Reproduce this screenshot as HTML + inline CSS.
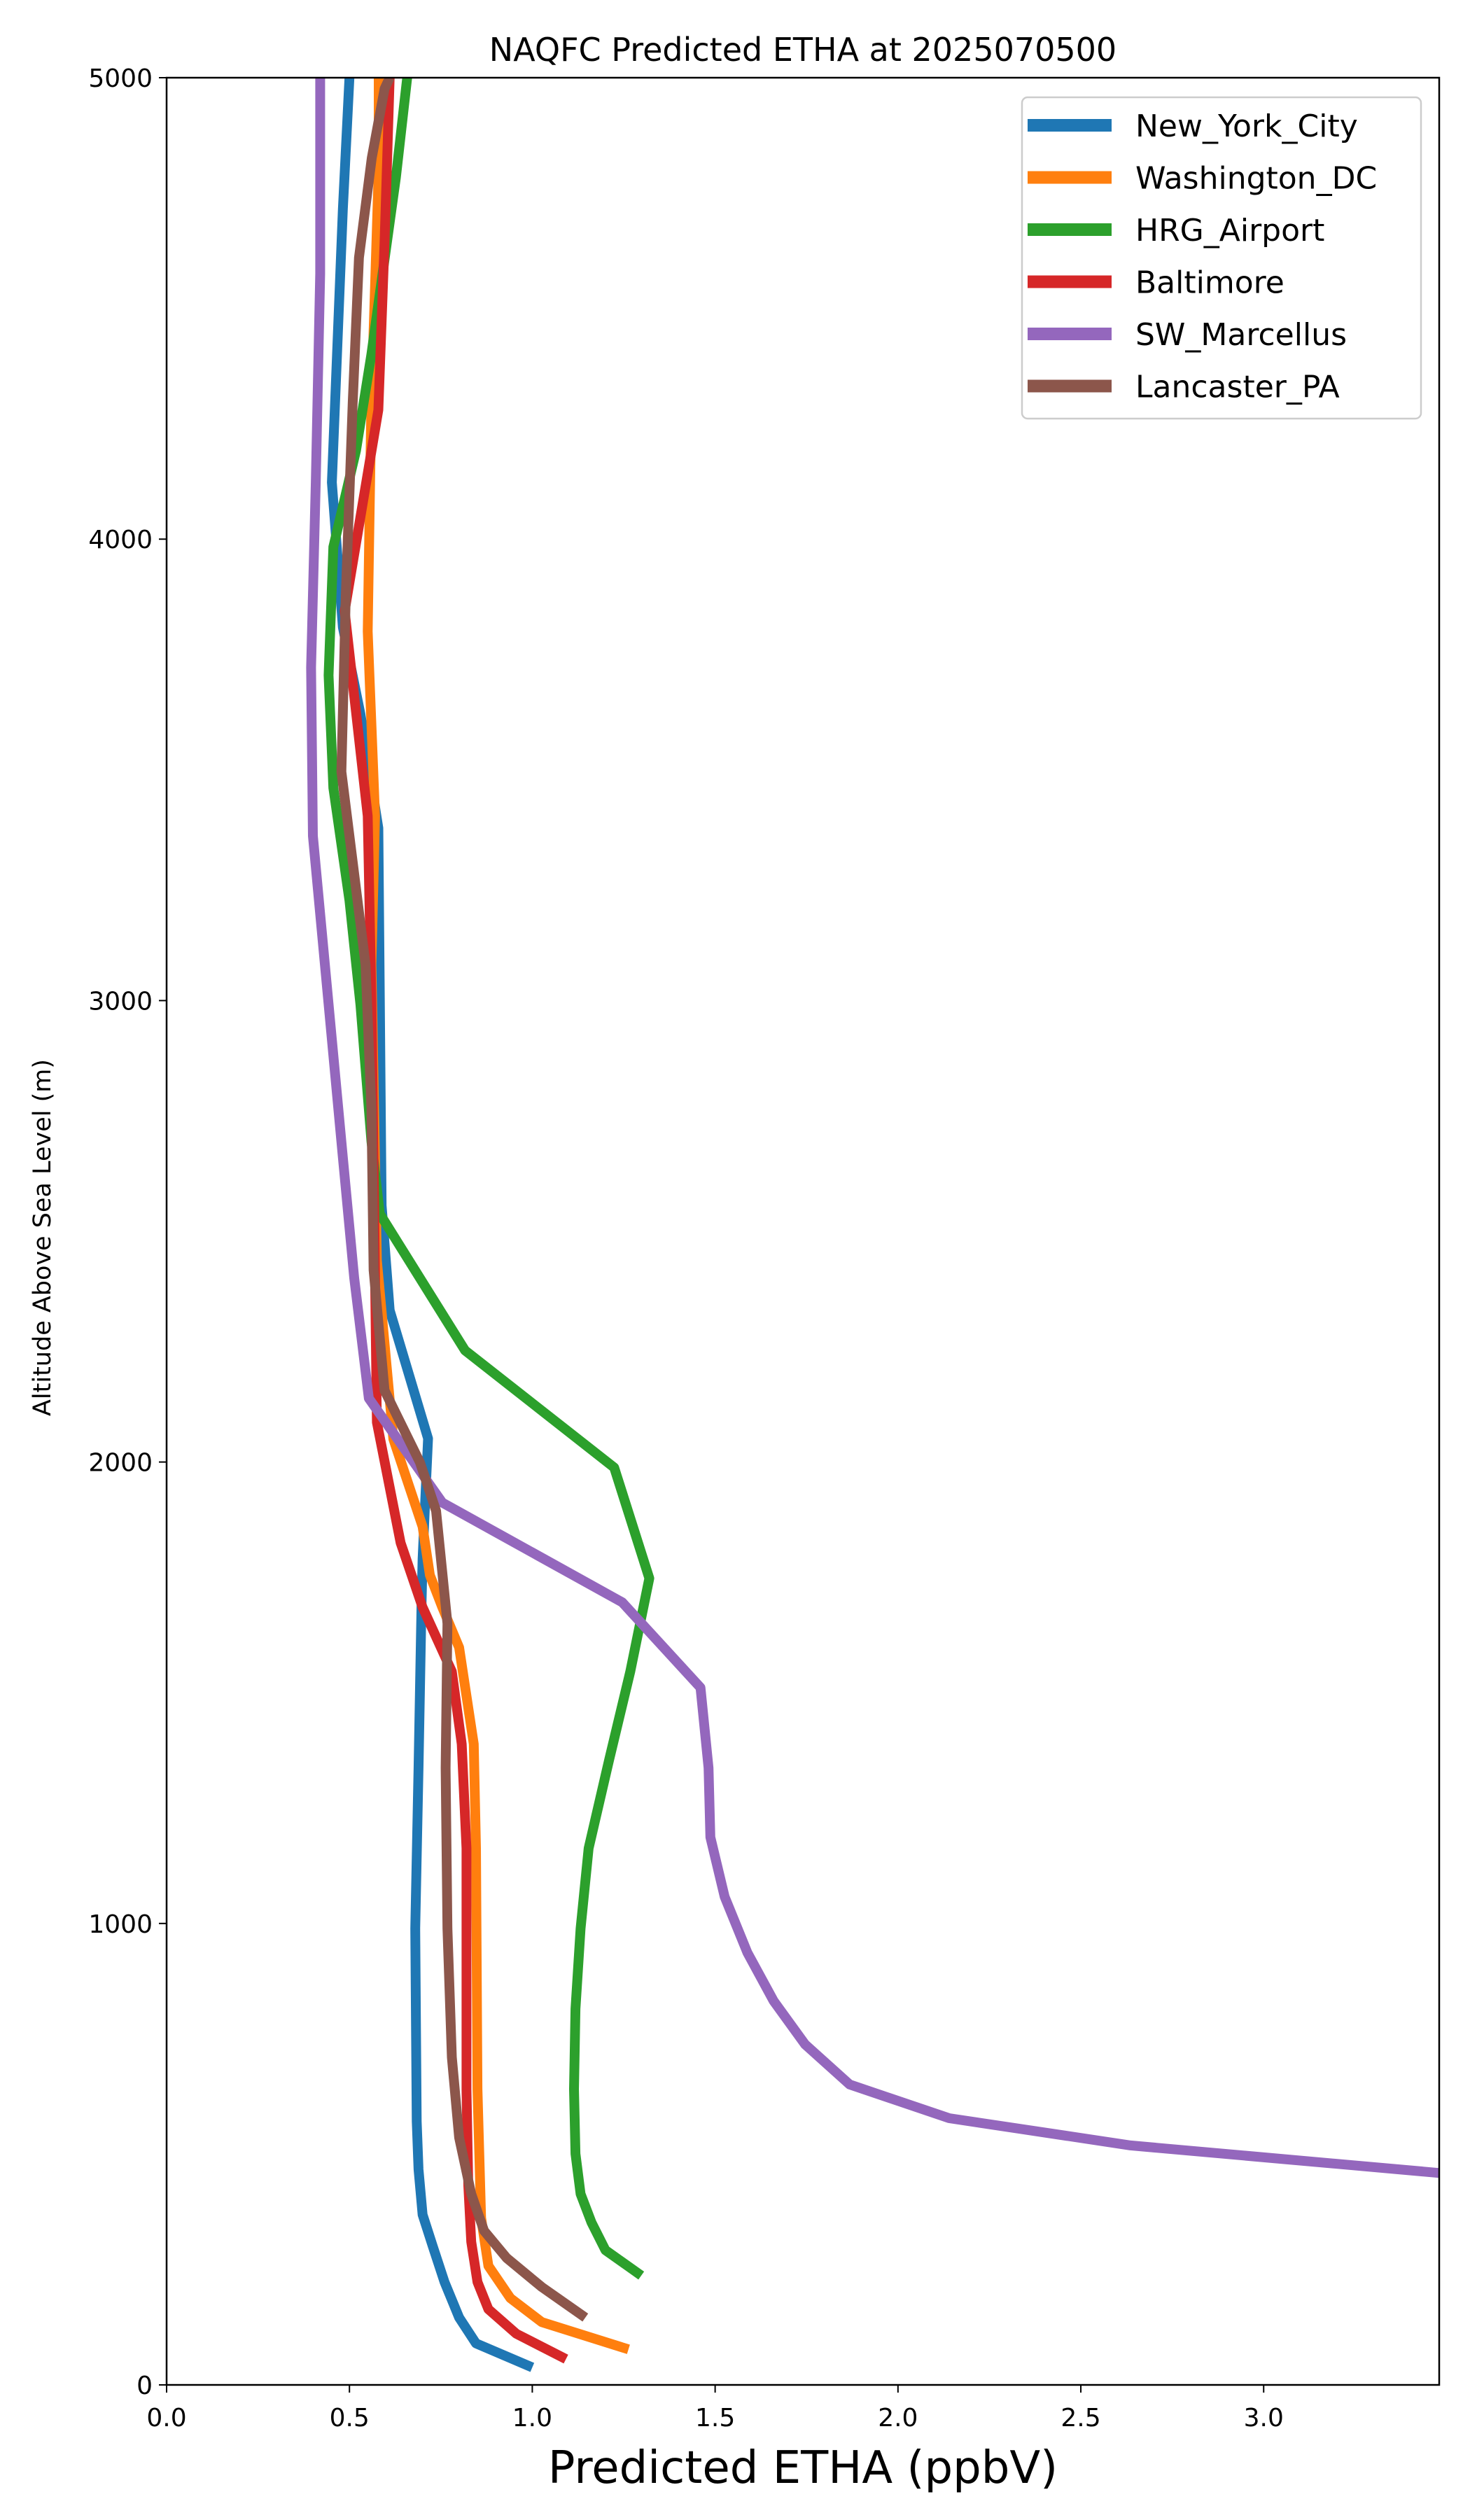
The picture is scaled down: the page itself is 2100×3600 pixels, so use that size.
<!DOCTYPE html>
<html><head><meta charset="utf-8"><style>
html,body{margin:0;padding:0;background:#fff;}
svg{display:block;font-family:"DejaVu Sans","Liberation Sans",sans-serif;}
</style></head><body>
<svg id="chart" width="2100" height="3600" viewBox="0 0 2100 3600" xmlns="http://www.w3.org/2000/svg">
<rect x="0" y="0" width="2100" height="3600" fill="#fff"/>
<defs><clipPath id="plotclip"><rect x="238" y="111" width="1818" height="3296"/></clipPath></defs>
<text x="1147" y="87" font-size="46" text-anchor="middle">NAQFC Predicted ETHA at 2025070500</text>
<g id="series" clip-path="url(#plotclip)"></g>
<rect x="238" y="111" width="1818" height="3296" fill="none" stroke="#000" stroke-width="2.5"/>
<g id="xticks"></g>
<g id="yticks"></g>
<text x="1147" y="3547" font-size="64" text-anchor="middle">Predicted ETHA (ppbV)</text>
<text x="0" y="0" font-size="35" text-anchor="middle" transform="translate(72,1768) rotate(-90)">Altitude Above Sea Level (m)</text>
<g id="legend"></g>
</svg>
<script>
const names = ["New_York_City","Washington_DC","HRG_Airport","Baltimore","SW_Marcellus","Lancaster_PA"];
const colors = ["#1f77b4","#ff7f0e","#2ca02c","#d62728","#9467bd","#8c564b"];
const xTicks = [0,0.5,1.0,1.5,2.0,2.5,3.0];
const xTickLabels = ["0.0","0.5","1.0","1.5","2.0","2.5","3.0"];
const yTicks = [0,1000,2000,3000,4000,5000];
const yTickLabels = ["0","1000","2000","3000","4000","5000"];
const nycX = [1.0,0.846,0.80,0.76,0.728,0.70,0.689,0.684,0.68,0.689,0.697,0.70,0.715,0.61,0.588,0.583,0.579,0.53,0.482,0.452,0.482,0.5];
const nycY = [38,90,146,223,300,369,467,571,989,1337,1685,1790,2051,2329,2556,3008,3374,3621,3809,4123,4715,5000];
const dcX = [1.263,1.026,0.94,0.88,0.86,0.85,0.846,0.84,0.80,0.754,0.72,0.70,0.62,0.575,0.56,0.57,0.55,0.56,0.58,0.58];
const dcY = [77,136,188,258,362,641,1163,1389,1598,1685,1755,1860,2050,2437,3078,3400,3800,4300,4800,5000];
const hrgX = [1.298,1.20,1.162,1.132,1.118,1.114,1.118,1.132,1.154,1.21,1.268,1.32,1.224,0.816,0.583,0.56,0.53,0.5,0.456,0.443,0.456,0.518,0.56,0.627,0.658];
const hrgY = [237,292,352,414,501,641,815,989,1163,1354,1546,1748,1988,2242,2538,2695,2991,3217,3461,3705,3983,4192,4401,4784,5000];
const balX = [1.092,0.956,0.88,0.85,0.833,0.825,0.82,0.82,0.807,0.78,0.70,0.64,0.575,0.57,0.56,0.55,0.487,0.579,0.596,0.61];
const balY = [56,111,164,223,310,432,641,1163,1389,1546,1685,1825,2086,2400,3000,3400,3844,4280,4645,5000];
const swmX = [3.7,3.47,2.636,2.14,1.868,1.746,1.66,1.588,1.526,1.487,1.482,1.46,1.246,0.754,0.553,0.513,0.482,0.40,0.395,0.408,0.42,0.42];
const swmY = [443,460,519,578,651,738,832,937,1058,1187,1337,1511,1696,1912,2138,2399,2660,3357,3722,4123,4575,5000];
const lanX = [1.145,1.026,0.93,0.868,0.833,0.80,0.78,0.768,0.763,0.768,0.737,0.693,0.596,0.566,0.56,0.544,0.478,0.49,0.509,0.526,0.561,0.596,0.61];
const lanY = [146,212,275,334,414,536,710,989,1337,1650,1894,1999,2155,2416,2765,3078,3496,3879,4297,4610,4826,4976,5000];

const X0=238, X1=2056, Y0=3407, Y1=111, XMAX=3.48, YMAX=5000;
function sx(v){return X0+(v/XMAX)*(X1-X0);}
function sy(v){return Y0-(v/YMAX)*(Y0-Y1);}
const NS="http://www.w3.org/2000/svg";
const series=[[nycX,nycY],[dcX,dcY],[hrgX,hrgY],[balX,balY],[swmX,swmY],[lanX,lanY]];
const slugs=["new-york-city","washington-dc","hrg-airport","baltimore","sw-marcellus","lancaster-pa"];
const g=document.getElementById("series");
series.forEach((s,i)=>{
  const p=document.createElementNS(NS,"path");
  let d=s[0].map((v,k)=>(k?"L":"M")+sx(v).toFixed(1)+","+sy(s[1][k]).toFixed(1)).join("");
  p.setAttribute("d",d);
  p.setAttribute("fill","none");
  p.setAttribute("stroke",colors[i]);
  p.setAttribute("stroke-width","14");
  p.setAttribute("stroke-linejoin","round");
  
  
  g.appendChild(p);
});
const xt=document.getElementById("xticks");
xTicks.forEach((v,i)=>{
  const l=document.createElementNS(NS,"line");
  l.setAttribute("x1",sx(v));l.setAttribute("x2",sx(v));l.setAttribute("y1",Y0);l.setAttribute("y2",Y0+11);
  l.setAttribute("stroke","#000");l.setAttribute("stroke-width","2");
  
  
  xt.appendChild(l);
  const t=document.createElementNS(NS,"text");
  t.setAttribute("x",sx(v));t.setAttribute("y",3466);t.setAttribute("font-size","36");t.setAttribute("text-anchor","middle");
  t.textContent=xTickLabels[i];
  
  
  xt.appendChild(t);
});
const yt=document.getElementById("yticks");
yTicks.forEach((v,i)=>{
  const l=document.createElementNS(NS,"line");
  l.setAttribute("x1",X0-11);l.setAttribute("x2",X0);l.setAttribute("y1",sy(v));l.setAttribute("y2",sy(v));
  l.setAttribute("stroke","#000");l.setAttribute("stroke-width","2");
  
  
  yt.appendChild(l);
  const t=document.createElementNS(NS,"text");
  t.setAttribute("x",X0-20);t.setAttribute("y",sy(v)+13);t.setAttribute("font-size","36");t.setAttribute("text-anchor","end");
  t.textContent=yTickLabels[i];
  
  
  yt.appendChild(t);
});
const lg=document.getElementById("legend");
const box=document.createElementNS(NS,"rect");
box.setAttribute("x",1460);box.setAttribute("y",139);box.setAttribute("width",570);box.setAttribute("height",459);
box.setAttribute("rx",8);box.setAttribute("fill","#fff");box.setAttribute("fill-opacity","0.8");box.setAttribute("stroke","#ccc");box.setAttribute("stroke-width","2.5");


lg.appendChild(box);
names.forEach((n,i)=>{
  const cy=179+i*74.5;
  const l=document.createElementNS(NS,"line");
  l.setAttribute("x1",1468);l.setAttribute("x2",1588);l.setAttribute("y1",cy);l.setAttribute("y2",cy);
  l.setAttribute("stroke",colors[i]);l.setAttribute("stroke-width","18");
  
  
  lg.appendChild(l);
  const t=document.createElementNS(NS,"text");
  t.setAttribute("x",1622);t.setAttribute("y",cy+16);t.setAttribute("font-size","44");
  t.textContent=n;
  
  
  lg.appendChild(t);
});
</script>
</body></html>
